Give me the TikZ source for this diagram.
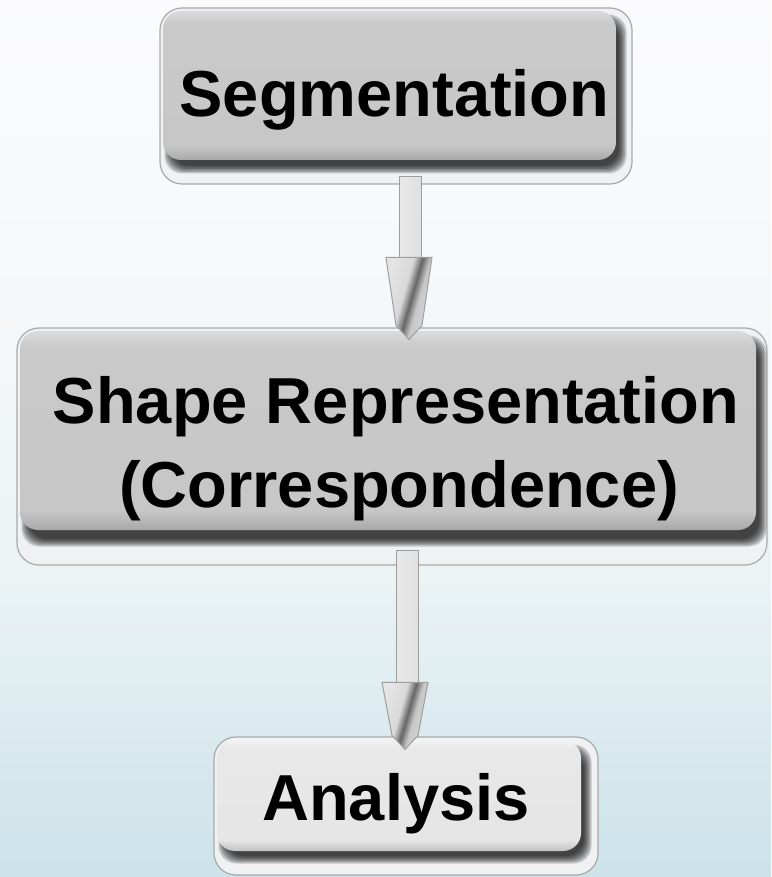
\documentclass[tikz,border=0pt]{standalone}
\usepackage{fontspec}
\setmainfont{Liberation Sans}
\usetikzlibrary{calc}
\definecolor{halofill}{HTML}{F0F1F2}
\definecolor{haloline}{HTML}{A9A9A9}
\definecolor{arrline}{HTML}{9E9E9E}
\pgfdeclareverticalshading{bgshade}{100bp}{rgb(0bp)=(0.8,0.886,0.914); rgb(25bp)=(0.8,0.886,0.914); rgb(32bp)=(0.847,0.914,0.933); rgb(42bp)=(0.922,0.953,0.961); rgb(55bp)=(0.957,0.969,0.976); rgb(75bp)=(0.984,0.984,0.992); rgb(100bp)=(0.984,0.984,0.992)}
\pgfdeclareverticalshading{bodydark}{100bp}{rgb(0bp)=(0.66,0.66,0.66); rgb(25bp)=(0.66,0.66,0.66); rgb(30bp)=(0.78,0.78,0.78); rgb(71bp)=(0.79,0.79,0.79); rgb(75bp)=(0.86,0.86,0.86); rgb(100bp)=(0.86,0.86,0.86)}
\pgfdeclareverticalshading{bodylight}{100bp}{rgb(0bp)=(0.76,0.76,0.76); rgb(25bp)=(0.76,0.76,0.76); rgb(30bp)=(0.9,0.9,0.9); rgb(71bp)=(0.91,0.91,0.91); rgb(75bp)=(0.95,0.95,0.95); rgb(100bp)=(0.95,0.95,0.95)}
\pgfdeclarehorizontalshading{headshade}{100bp}{rgb(0bp)=(0.9,0.9,0.9); rgb(25bp)=(0.9,0.9,0.9); rgb(44bp)=(0.85,0.85,0.85); rgb(52bp)=(0.4,0.4,0.4); rgb(59bp)=(0.78,0.78,0.78); rgb(75bp)=(0.86,0.86,0.86); rgb(100bp)=(0.86,0.86,0.86)}
\newcommand\softshadow[4]{%
  \foreach \k in {0,...,5}{%
    \fill[black,opacity=0.19,rounded corners=18pt] ({#1-4.5+1.5*\k},{#2-4.5+1.5*\k}) rectangle ({#3+4.5-1.5*\k},{#4+4.5-1.5*\k});
  }}
\newcommand\fatarrow[3]{%
  \shade[shaft] let \p1=(#1), \p2=(#2) in ({\x1-11pt},\y1) rectangle ({\x1+11pt},{\y2+#3pt-1pt});
  \shade[head] let \p1=(#1), \p2=(#2) in ({\x2-23pt},{\y2+#3pt}) -- ({\x2+23pt},{\y2+#3pt}) -- ({\x2+13pt},{\y2+14pt}) -- (\x2,\y2) -- ({\x2-13pt},{\y2+14pt}) -- cycle;
}
\tikzset{
  halo/.style={draw=haloline, line width=1.2pt, fill=halofill, rounded corners=22pt, inner sep=0pt, rectangle},
  boxlabel/.style={font=\fontsize{65}{84}\selectfont\bfseries, text=black, anchor=base, inner sep=0pt},
  shaft/.style={draw=arrline, line width=1pt, left color=black!9, middle color=black!25, right color=black!12},
  head/.style={draw=arrline, line width=1pt, shading=headshade, shading angle=-16},
}
\begin{document}
\begin{tikzpicture}[x=1pt,y=-1pt]
\shade[shading=bgshade] (0,0) rectangle (771,877);
\useasboundingbox (0,0) rectangle (771,877);
% box 1
\node[halo, minimum width=472pt, minimum height=176pt] (seg) at (396,96) {};
\softshadow{169}{19}{622}{169}
\shade[shading=bodydark, rounded corners=18pt] (163,11) rectangle (616,160);
\node[boxlabel] (segt) at (394.5,117) {Segmentation};
% box 2
\node[halo, minimum width=750pt, minimum height=237pt] (rep) at (392,446.5) {};
\softshadow{26}{340}{762}{542}
\shade[shading=bodydark, rounded corners=18pt] (20,331) rectangle (756,530);
\node[boxlabel] (rep1) at (396,423) {Shape Representation};
\node[boxlabel] (rep2) at (399,507) {(Correspondence)};
% box 3
\node[halo, minimum width=384pt, minimum height=138pt] (ana) at (406,806) {};
\softshadow{223}{749}{587}{859}
\shade[shading=bodylight, rounded corners=18pt] (217,740) rectangle (581,851);
\node[boxlabel] (anat) at (396,820) {Analysis};
% arrows
\coordinate (a1s) at ($(seg.south)+(14,-8)$);
\coordinate (a1e) at ($(rep.north)+(17,12)$);
\coordinate (a2s) at ($(rep.south)+(15,-15)$);
\coordinate (a2e) at ($(ana.north)+(-1,13)$);
\fatarrow{a1s}{a1e}{82}
\fatarrow{a2s}{a2e}{67}
\end{tikzpicture}
\end{document}
